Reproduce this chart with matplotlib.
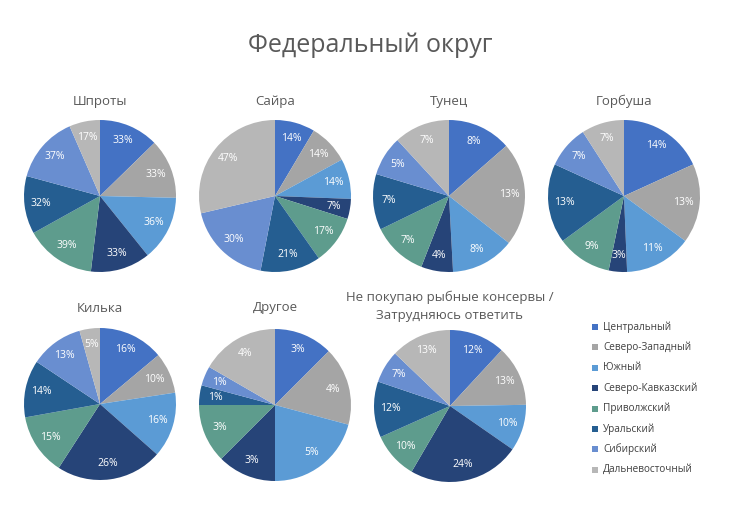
import matplotlib
matplotlib.use("Agg")
import matplotlib.pyplot as plt
from matplotlib.patches import Rectangle

plt.rcParams['font.family'] = ['Open Sans', 'DejaVu Sans']

# federal districts (legend order, pies go clockwise from 12 o'clock)
districts = ["Центральный", "Северо-Западный", "Южный", "Северо-Кавказский",
             "Приволжский", "Уральский", "Сибирский", "Дальневосточный"]
colors = ["#4472C4", "#A5A5A5", "#5B9BD5", "#264478",
          "#5E9C8D", "#255E91", "#698ED0", "#B7B7B7"]

titles = ["Шпроты", "Сайра", "Тунец", "Горбуша",
          "Килька", "Другое", "Не покупаю рыбные консервы /\nЗатрудняюсь ответить"]

shproty = [33, 33, 36, 33, 39, 32, 37, 17]
saira = [14, 14, 14, 7, 17, 21, 30, 47]
tunec = [8, 13, 8, 4, 7, 7, 5, 7]
gorbusha = [14, 13, 11, 3, 9, 13, 7, 7]
kilka = [16, 10, 16, 26, 15, 14, 13, 5]
drugoe = [3, 4, 5, 3, 3, 1, 1, 4]
ne_pokupayu = [12, 13, 10, 24, 10, 12, 7, 13]
all_values = [shproty, saira, tunec, gorbusha, kilka, drugoe, ne_pokupayu]

W, H = 740, 512
fig = plt.figure(figsize=(W / 100, H / 100), dpi=100)
fig.patch.set_facecolor("white")

fig.text(370 / W, 1 - 45 / H, "Федеральный округ", ha="center", va="center",
         fontsize=18, color="#595959")

# pie centres in pixels, radius 76
centres = [(100, 196), (275, 196), (449, 196), (624, 196),
           (100, 404), (275, 405), (450, 406)]
title_y = [101, 101, 101, 101, 308, 308, 306]
r = 76

for vals, (cx, cy), ttl, ty in zip(all_values, centres, titles, title_y):
    ax = fig.add_axes([(cx - r) / W, 1 - (cy + r) / H, 2 * r / W, 2 * r / H])
    wedges, texts = ax.pie(vals, colors=colors, startangle=90, counterclock=False,
                           labels=[f"{v}%" for v in vals], labeldistance=0.79,
                           wedgeprops=dict(linewidth=0),
                           textprops=dict(color="white", fontsize=7.5, ha="center", va="center"))
    ax.set_aspect("equal")
    ax.set_xlim(-1, 1)
    ax.set_ylim(-1, 1)
    fig.text(cx / W, 1 - ty / H, ttl, ha="center", va="center", fontsize=9.5,
             color="#595959", linespacing=1.5)

# legend
for i, (name, c) in enumerate(zip(districts, colors)):
    y = 327 + i * 20.4
    fig.patches.append(Rectangle(((595 - 3) / W, 1 - (y + 3) / H), 6 / W, 6 / H,
                                 transform=fig.transFigure, facecolor=c, edgecolor="none"))
    fig.text(603 / W, 1 - y / H, name, ha="left", va="center", fontsize=7.2,
             color="#404040")

fig.savefig("out.png", dpi=100)
